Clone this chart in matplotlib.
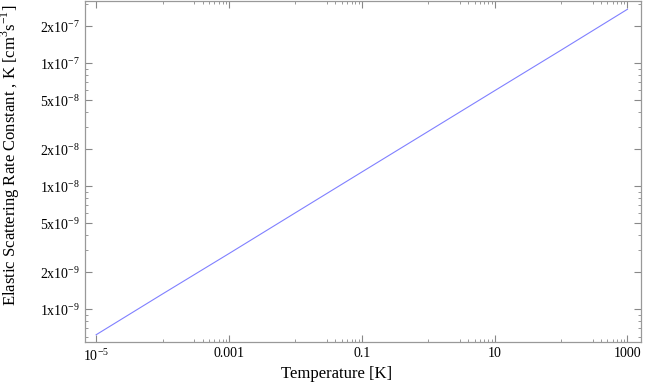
import matplotlib
matplotlib.use("Agg")
import matplotlib.pyplot as plt
from matplotlib.ticker import FixedLocator, NullFormatter

plt.rcParams['font.family'] = ['Liberation Serif', 'DejaVu Serif']
plt.rcParams['mathtext.fontset'] = 'custom'
plt.rcParams['mathtext.rm'] = 'Liberation Serif'

# temperature [K] and elastic scattering rate constant [cm^3 s^-1]
temps = [1e-5, 1e-4, 1e-3, 1e-2, 0.1, 1, 10, 100, 1000]
rate = [6.2e-10, 1.33e-9, 2.83e-9, 6.07e-9, 1.30e-8, 2.78e-8, 5.95e-8, 1.27e-7, 2.73e-7]

xticks = [1e-5, 1e-3, 0.1, 10, 1000]
xticklabels = ['$10^{-5}$', '0.001', '0.1', '10', '1000']
yticks = [1e-9, 2e-9, 5e-9, 1e-8, 2e-8, 5e-8, 1e-7, 2e-7]
yticklabels = ['1x10$^{-9}$', '2x10$^{-9}$', '5x10$^{-9}$', '1x10$^{-8}$',
               '2x10$^{-8}$', '5x10$^{-8}$', '1x10$^{-7}$', '2x10$^{-7}$']

fig = plt.figure(figsize=(6.45, 3.84), dpi=100)
ax = fig.add_axes([0.1318, 0.109, 0.862, 0.889])

ax.plot(temps, rate, color='#8080ff', lw=0.8)
ax.set_xscale('log')
ax.set_yscale('log')
ax.set_xlim(6.8e-6, 1.6e3)
ax.set_ylim(5.4e-10, 3.2e-7)

# minor ticks, roughly like the original
xminor = []
for n in [-4, -2, 0, 2]:
    xminor.append(10.0**n)
    for k in range(3, 10):
        xminor.append(k * 10.0**n)
ax.xaxis.set_major_locator(FixedLocator(xticks))
ax.xaxis.set_minor_locator(FixedLocator(xminor))
ax.set_xticklabels(xticklabels)
ax.xaxis.set_minor_formatter(NullFormatter())

ax.yaxis.set_major_locator(FixedLocator(yticks))
ax.set_yticklabels(yticklabels)
ax.yaxis.set_minor_formatter(NullFormatter())

for s in ax.spines.values():
    s.set_color('#999999')
    s.set_linewidth(0.9)
ax.tick_params(which='both', direction='in', top=True, right=True,
               color='#888888', labelsize=10)
ax.tick_params(which='major', length=5)
ax.tick_params(which='minor', length=2.5)

ax.set_xlabel('Temperature [K]', fontsize=12)
ax.set_ylabel('Elastic Scattering Rate Constant , K [cm$^3$s$^{-1}$]', fontsize=12)
ax.xaxis.set_label_coords(0.453, -0.07)
ax.yaxis.set_label_coords(-0.113, 0.547)

fig.savefig('out.png', dpi=100)
